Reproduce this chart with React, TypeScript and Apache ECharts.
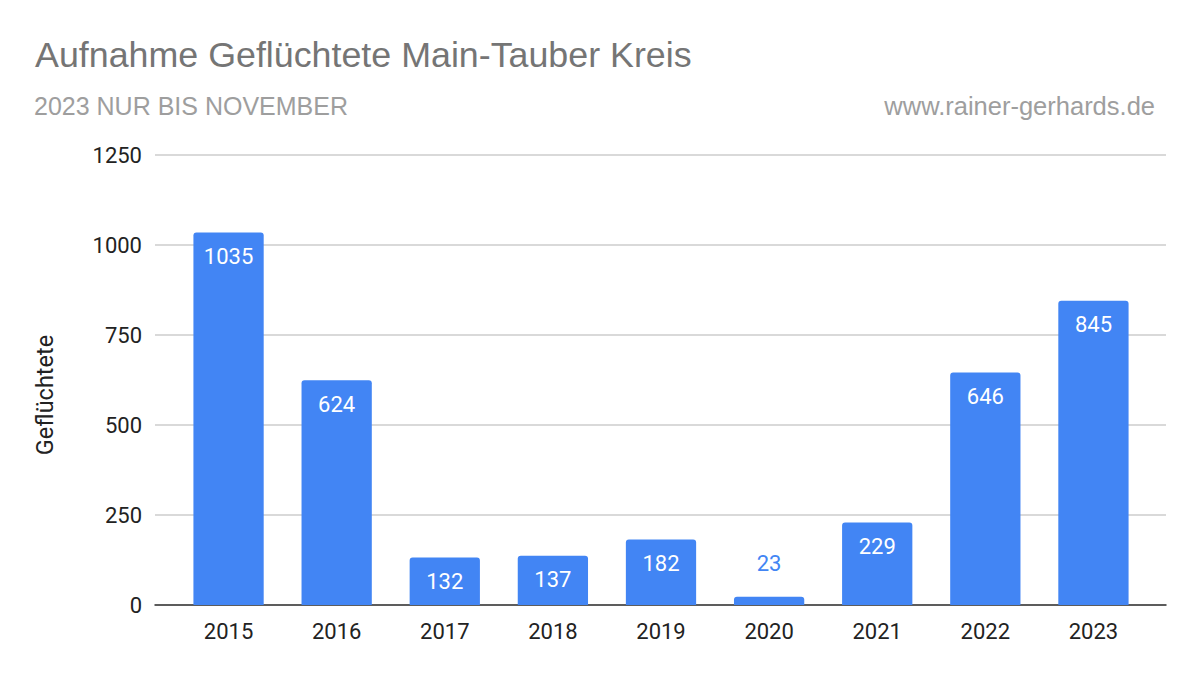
import React, { useEffect, useRef } from "react";
import * as echarts from "echarts";

const categories = ["2015", "2016", "2017", "2018", "2019", "2020", "2021", "2022", "2023"];
const values = [1035, 624, 132, 137, 182, 23, 229, 646, 845];
const yTicks = [0, 250, 500, 750, 1000, 1250];

const TITLE = "Aufnahme Geflüchtete Main-Tauber Kreis";
const SUBTITLE = "2023 NUR BIS NOVEMBER";
const SOURCE = "www.rainer-gerhards.de";
const Y_NAME = "Geflüchtete";

export default function App() {
  const ref = useRef<HTMLDivElement>(null);
  useEffect(() => {
    if (!ref.current) return;
    const chart = echarts.init(ref.current, null, { renderer: "svg" });
    const yMax = yTicks[yTicks.length - 1];
    const axisFont = "Roboto, Arial, sans-serif";
    const headFont = "'Liberation Sans', Arial, sans-serif";
    chart.setOption({
      animation: false,
      backgroundColor: "#ffffff",
      title: [
        {
          text: TITLE,
          left: 30,
          top: 32,
          textStyle: { fontFamily: headFont, fontSize: 35.8, fontWeight: "normal", color: "#757575" },
        },
        {
          text: SUBTITLE,
          left: 29,
          top: 88,
          textStyle: { fontFamily: headFont, fontSize: 25, fontWeight: "normal", color: "#9e9e9e" },
        },
        {
          text: SOURCE,
          right: 40,
          top: 88,
          textStyle: { fontFamily: headFont, fontSize: 25.5, fontWeight: "normal", color: "#9e9e9e" },
        },
      ],
      graphic: [
        {
          type: "text",
          x: 45,
          y: 395,
          rotation: Math.PI / 2,
          style: {
            text: Y_NAME,
            fontFamily: axisFont,
            fontSize: 23.5,
            fill: "#222222",
            textAlign: "center",
            textVerticalAlign: "middle",
            verticalAlign: "middle",
          },
        },
      ],
      grid: [
        { left: 155, right: 34, top: 155, bottom: 71 },
        { left: 174.5, right: 52.5, top: 155, bottom: 71 },
      ],
      xAxis: [
        {
          gridIndex: 0,
          type: "value",
          min: 0,
          max: 1,
          axisLine: { show: true, onZero: false, lineStyle: { color: "#333333", width: 1.5 } },
          axisTick: { show: false },
          axisLabel: { show: false },
          splitLine: { show: false },
        },
        {
          gridIndex: 1,
          type: "category",
          data: categories,
          axisLine: { show: false },
          axisTick: { show: false },
          axisLabel: { fontFamily: axisFont, fontSize: 22, color: "#222222", margin: 15 },
        },
      ],
      yAxis: [
        {
          gridIndex: 0,
          type: "value",
          min: 0,
          max: yMax,
          interval: 250,
          axisLine: { show: false },
          axisTick: { show: false },
          axisLabel: {
            fontFamily: axisFont,
            fontSize: 22,
            color: "#222222",
            margin: 13,
            formatter: (v: number) => String(v),
          },
          splitLine: { show: true, lineStyle: { color: "#cccccc", width: 1.5 } },
        },
        {
          gridIndex: 1,
          type: "value",
          min: 0,
          max: yMax,
          interval: 250,
          show: false,
          splitLine: { show: false },
        },
      ],
      series: [
        {
          type: "bar",
          xAxisIndex: 1,
          yAxisIndex: 1,
          barWidth: "65%",
          itemStyle: { color: "#4285f4", borderRadius: [3, 3, 0, 0] },
          label: {
            show: true,
            position: "insideTop",
            distance: 13,
            color: "#ffffff",
            fontFamily: axisFont,
            fontSize: 22,
          },
          data: values.map((v) =>
            v < 60
              ? { value: v, label: { position: "top", distance: 22, color: "#4285f4" } }
              : v
          ),
          z: 3,
        },
      ],
    });
    return () => chart.dispose();
  }, []);
  return <div ref={ref} style={{ width: 1200, height: 676, margin: -8 }} />;
}
